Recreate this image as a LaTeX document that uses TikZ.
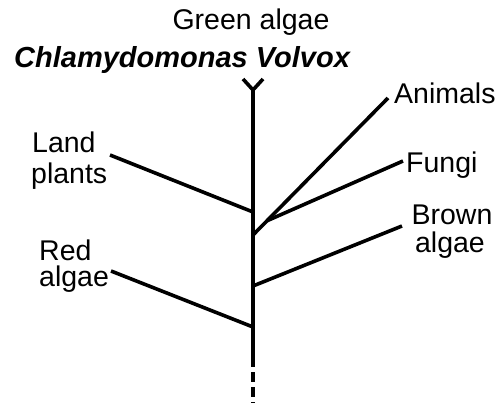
\documentclass[tikz,border=0pt]{standalone}
\usepackage{fontspec}
\setmainfont{Liberation Sans}
\usetikzlibrary{calc}
\begin{document}
\begin{tikzpicture}[x=1pt,y=-1pt,
  lbl/.style={inner sep=0pt,font=\fontsize{28.5}{30}\selectfont},
  branch/.style={line width=3.6pt},
  trunkline/.style={line width=3.3pt}]
\useasboundingbox (0,0) rectangle (499,404);
% labels
\node[lbl,anchor=base] (green) at (251,30) {Green algae};
\node[lbl,anchor=base west,font=\fontsize{29}{30}\selectfont\bfseries\itshape] (chlam) at (14,68) {Chlamydomonas Volvox};
\node[lbl,anchor=base west] (animals) at (394,104) {Animals};
\node[lbl,anchor=base west] (fungi) at (406,172) {Fungi};
\node[lbl,anchor=base west] (land1) at (32,153) {Land};
\node[lbl,anchor=base west] (land2) at (31,183) {plants};
\node[lbl,anchor=base] (brown1) at (452,225) {Brown};
\node[lbl,anchor=base] (brown2) at (450,252) {algae};
\node[lbl,anchor=base west] (red1) at (39,260) {Red};
\node[lbl,anchor=base west] (red2) at (39,286) {algae};
% coordinates
\coordinate (ytop) at (253,90);
\coordinate (yl) at (243,79);
\coordinate (yr) at (263,79);
\coordinate (jland) at (253,212);
\coordinate (janim) at (253,235);
\coordinate (jbrown) at (253,286);
\coordinate (jred) at (253,327);
\coordinate (solidend) at (253,357);
\coordinate (bottom) at (253,403);
\coordinate (eland) at (110,155);
\coordinate (eanim) at (388,98);
\coordinate (efungi) at (403,161);
\coordinate (ebrown) at (402,226);
\coordinate (ered) at (111,271);
\coordinate (jfungi) at ($(eanim)!0.896!(janim)$);
% trunk
\draw[trunkline] (ytop) -- (solidend);
\draw[trunkline,dash pattern=on 10pt off 5pt] (solidend) -- (bottom);
\draw[branch] (yl) -- (ytop) -- (yr);
% branches
\draw[branch] (eland) -- (jland);
\draw[branch] (eanim) -- (janim);
\draw[branch] (efungi) -- (jfungi);
\draw[branch] (ebrown) -- (jbrown);
\draw[branch] (ered) -- (jred);
\end{tikzpicture}
\end{document}
